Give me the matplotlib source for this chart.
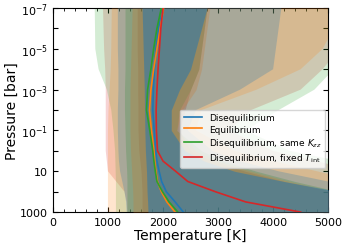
import matplotlib
matplotlib.use('Agg')
import matplotlib.pyplot as plt
import numpy as np

# pressure nodes [bar]
log_p = [-7, -6, -5, -4, -3, -2, -1, 0, 0.5, 1, 1.5, 2, 2.5, 3]
pressure = [10.0 ** v for v in log_p]

labels = ['Disequilibrium', 'Equilibrium',
          'Disequilibrium, same $K_{zz}$', 'Disequilibrium, fixed $T_\\mathrm{int}$']
colors = ['C0', 'C1', 'C2', 'C3']

# median temperature profiles [K]
t_diseq = [1990, 1920, 1870, 1845, 1825, 1815, 1840, 1870, 1890, 1930, 1975, 2060, 2220, 2370]
t_eq = [2010, 1950, 1890, 1830, 1780, 1755, 1790, 1835, 1850, 1870, 1900, 1970, 2070, 2220]
t_kzz = [1970, 1890, 1830, 1780, 1720, 1700, 1760, 1815, 1835, 1860, 1890, 1990, 2110, 2270]
t_tint = [2000, 1960, 1935, 1910, 1890, 1875, 1880, 1900, 2000, 2230, 2450, 2950, 3500, 4500]

# inner envelopes (low / high)
in_lo_diseq = [1620, 1630, 1640, 1650, 1660, 1665, 1670, 1680, 1690, 1700, 1705, 1710, 1720, 1727]
in_hi_diseq = [2800, 2700, 2600, 2500, 2300, 2150, 2150, 2400, 2750, 3300, 4200, 5200, 6000, 7000]
in_lo_eq = [1440, 1430, 1420, 1410, 1400, 1400, 1400, 1410, 1420, 1430, 1440, 1450, 1455, 1455]
in_hi_eq = [2850, 2800, 2750, 2700, 2600, 2350, 2250, 2600, 3000, 3600, 4300, 5100, 6000, 7000]
in_lo_kzz = [1310, 1310, 1310, 1310, 1300, 1300, 1310, 1320, 1330, 1340, 1345, 1345, 1345, 1345]
in_hi_kzz = [2800, 2750, 2700, 2650, 2500, 2300, 2250, 2700, 3100, 3700, 4400, 5200, 6000, 7000]
in_lo_tint = [1530, 1530, 1530, 1540, 1540, 1545, 1545, 1560, 1580, 1600, 1610, 1618, 1618, 1618]
in_hi_tint = [2800, 2750, 2700, 2650, 2500, 2400, 2300, 2500, 2900, 3500, 4200, 5100, 6000, 7000]

# outer envelopes (low / high)
out_lo_diseq = [1180, 1180, 1180, 1190, 1190, 1180, 1180, 1190, 1200, 1220, 1260, 1300, 1330, 1340]
out_hi_diseq = [4150, 4100, 4050, 4000, 3400, 2600, 2450, 2900, 3400, 4100, 5000, 6000, 7000, 8000]
out_lo_eq = [1070, 1065, 1060, 1050, 1030, 1010, 1000, 1000, 1000, 1000, 1000, 1000, 1000, 1000]
out_hi_eq = [5300, 5100, 4900, 4500, 3700, 2700, 2600, 3300, 4000, 4800, 5600, 6500, 7500, 8500]
out_lo_kzz = [760, 765, 770, 830, 980, 1060, 1100, 1130, 1135, 1140, 1145, 1145, 1145, 1145]
out_hi_kzz = [6000, 5800, 5500, 5100, 4750, 4100, 3500, 4300, 5200, 6000, 7000, 8000, 9000, 9500]
out_lo_tint = [910, 920, 930, 950, 960, 960, 960, 960, 980, 1000, 1150, 1300, 1340, 1350]
out_hi_tint = [5600, 5400, 5200, 4900, 4500, 3600, 3200, 4000, 4800, 5500, 6300, 7200, 8000, 9000]

medians = [t_diseq, t_eq, t_kzz, t_tint]
inner = [(in_lo_diseq, in_hi_diseq), (in_lo_eq, in_hi_eq),
         (in_lo_kzz, in_hi_kzz), (in_lo_tint, in_hi_tint)]
outer = [(out_lo_diseq, out_hi_diseq), (out_lo_eq, out_hi_eq),
         (out_lo_kzz, out_hi_kzz), (out_lo_tint, out_hi_tint)]
inner_alpha = [0.5, 0.3, 0.3, 0.3]
outer_alpha = [0.25, 0.2, 0.2, 0.2]

fig = plt.figure(figsize=(3.48, 2.51), dpi=100)
ax = fig.add_axes([0.152, 0.151, 0.791, 0.813])

# envelopes: draw the last model first so the disequilibrium one sits on top
for i in [3, 2, 1, 0]:
    ax.fill_betweenx(pressure, outer[i][0], outer[i][1], color=colors[i],
                     alpha=outer_alpha[i], lw=0, zorder=1 + (3 - i))
    ax.fill_betweenx(pressure, inner[i][0], inner[i][1], color=colors[i],
                     alpha=inner_alpha[i], lw=0, zorder=1 + (3 - i))

for i in range(4):
    ax.plot(medians[i], pressure, color=colors[i], lw=1.2, label=labels[i], zorder=10)

ax.set_yscale('log')
ax.set_xlim(0, 5000)
ax.set_ylim(1000, 1e-7)

yt = [10.0 ** e for e in range(-7, 4)]
ylab = ['$10^{-7}$', '', '$10^{-5}$', '', '$10^{-3}$', '', '$10^{-1}$', '', '10', '', '1000']
ax.set_yticks(yt)
ax.set_yticklabels(ylab)
ax.yaxis.set_minor_locator(matplotlib.ticker.NullLocator())
ax.set_xticks([0, 1000, 2000, 3000, 4000, 5000])
ax.xaxis.set_minor_locator(matplotlib.ticker.MultipleLocator(200))
ax.tick_params(which='both', direction='in', top=True, right=True, labelsize=8)
ax.tick_params(which='major', length=3.5)
ax.tick_params(which='minor', length=2)

ax.set_xlabel('Temperature [K]', fontsize=10, labelpad=1)
ax.set_ylabel('Pressure [bar]', fontsize=10, labelpad=1)

ax.legend(fontsize=6.5, loc='center right', bbox_to_anchor=(1.0, 0.36),
          handlelength=2.0, borderaxespad=0.3, labelspacing=0.25)

plt.savefig('out.png', dpi=100)
plt.close()
